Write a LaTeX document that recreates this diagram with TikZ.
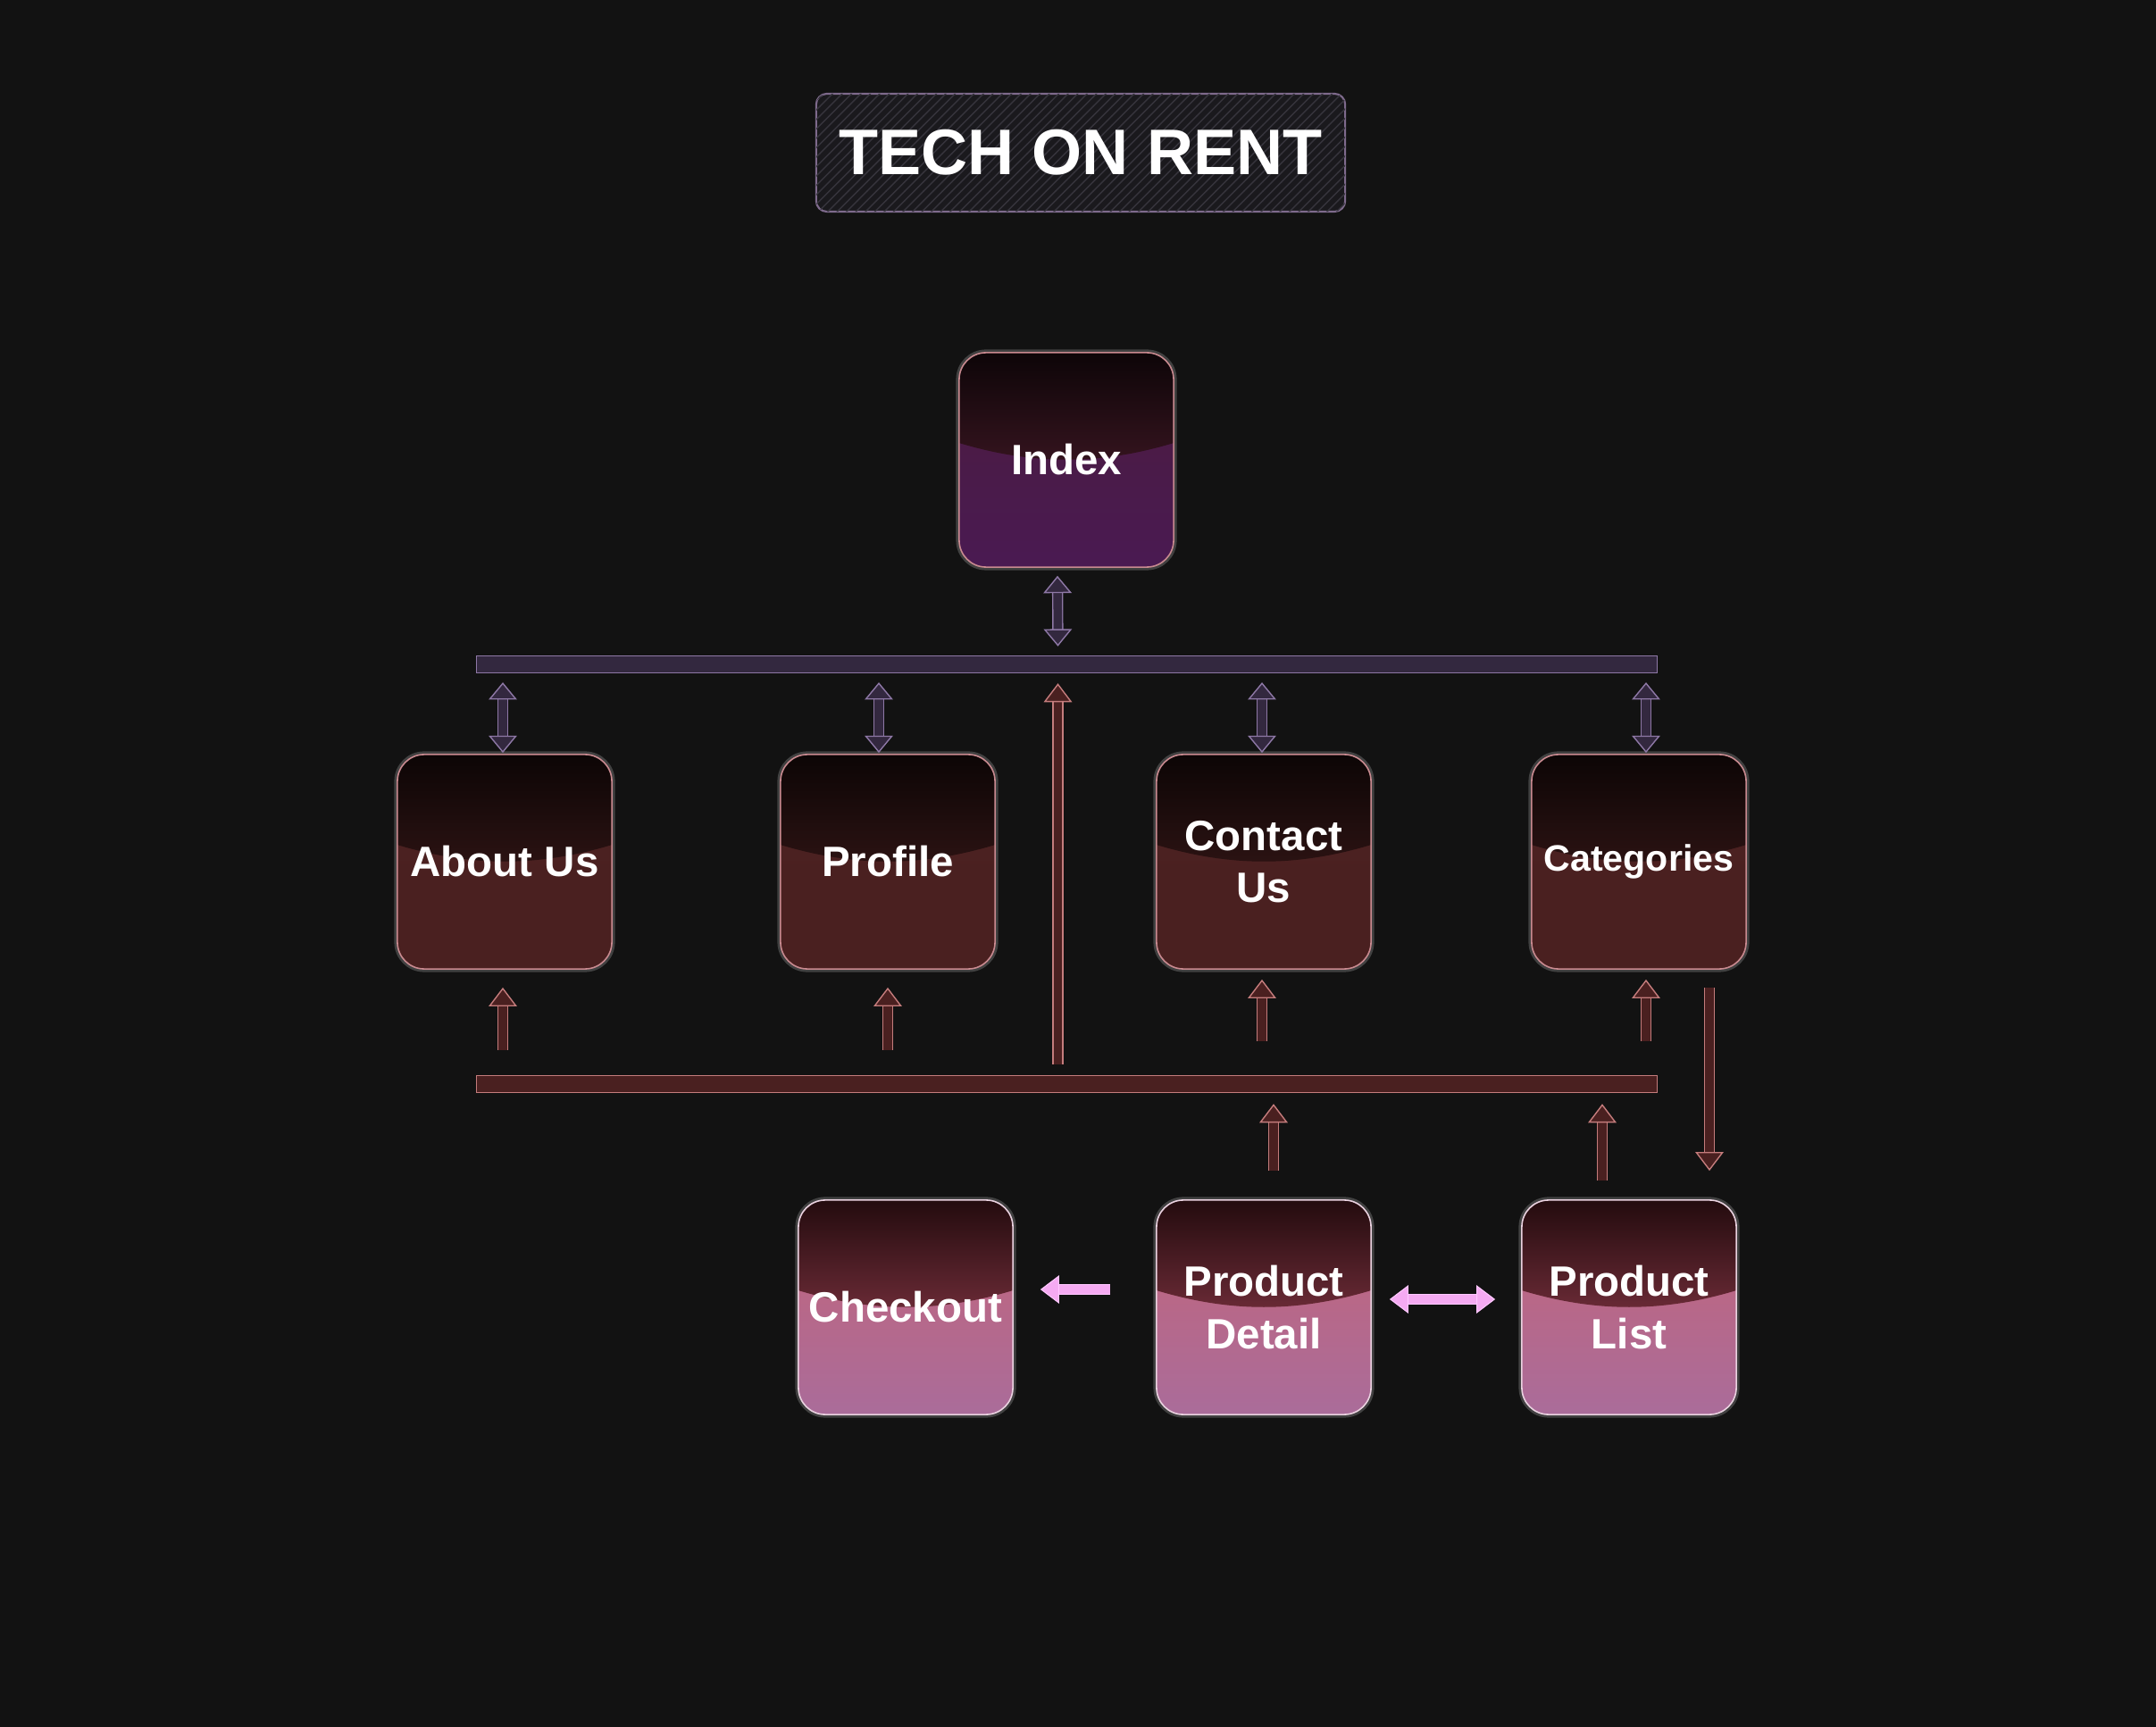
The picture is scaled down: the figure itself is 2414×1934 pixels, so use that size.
\documentclass[tikz,border=0pt]{standalone}
\usepackage{fontspec}
\setmainfont{Liberation Sans}
\usetikzlibrary{arrows.meta,calc,patterns}

\definecolor{bg}{HTML}{121212}
\definecolor{edge}{HTML}{C98A90}
\definecolor{paleedge}{HTML}{EAD2E0}
\definecolor{titlefill}{HTML}{1A191D}
\definecolor{titleline}{HTML}{7E6A8C}
\definecolor{hatch}{HTML}{36343C}
\definecolor{purpfill}{HTML}{33283F}
\definecolor{purpline}{HTML}{8E78A6}
\definecolor{redfill}{HTML}{4A2020}
\definecolor{redline}{HTML}{C47C7C}
\definecolor{pinkfill}{HTML}{F5AAF2}
\definecolor{pinkline}{HTML}{FFC8FF}
% tile shades
\definecolor{indextop}{HTML}{0A0406}
\definecolor{indexmid}{HTML}{36141F}
\definecolor{indexlow}{HTML}{4B1C3E}
\definecolor{indexbot}{HTML}{4A1A52}
\definecolor{darktop}{HTML}{0A0404}
\definecolor{darkmid}{HTML}{2C1313}
\definecolor{darklow}{HTML}{4B2121}
\definecolor{darkbot}{HTML}{4A2020}
\definecolor{pinktop}{HTML}{1E090B}
\definecolor{pinkmid}{HTML}{6C2B37}
\definecolor{pinklow}{HTML}{C46478}
\definecolor{pinkbot}{HTML}{AA6C9A}

\tikzset{
  tile/.style={rounded corners=0.3cm, minimum width=2.4cm, minimum height=2.4cm,
    inner sep=0.05cm, align=center, text=white, draw=edge, line width=0.45pt,
    font=\bfseries\fontsize{13.5}{16.6}\selectfont,
    preaction={draw=white, draw opacity=0.2, line width=2pt}},
  gloss/.style n args={4}{top color=#3, bottom color=#4,
    path picture={
      \coordinate (c) at (path picture bounding box.center);
      \shade[sharp corners, top color=#1, bottom color=#2]
        ($(c)+(-130,-130)$) -- ($(c)+(130,-130)$) -- ($(c)+(130,-22)$)
        .. controls ($(c)+(40,7)$) and ($(c)+(-40,7)$) .. ($(c)+(-130,-22)$) -- cycle;
    }},
  indexshade/.style={gloss={indextop}{indexmid}{indexlow}{indexbot}},
  darkshade/.style={gloss={darktop}{darkmid}{darklow}{darkbot}},
  pinkshade/.style={gloss={pinktop}{pinkmid}{pinklow}{pinkbot}, draw=paleedge},
  titlebox/.style={rounded corners=0.12cm, minimum width=5.92cm, minimum height=1.32cm,
    fill=titlefill, draw=titleline, line width=0.6pt, text=white,
    postaction={pattern=north east lines, pattern color=hatch},
    font=\bfseries\fontsize{20.5}{24}\selectfont},
  bar/.style={minimum width=13.21cm, minimum height=0.19cm, inner sep=0pt, line width=0.4pt},
  purparr/.style={draw=purpline, line width=0.4pt, double=purpfill, double distance=2.7pt,
    >={Triangle[width=9pt,length=5.5pt,fill=purpfill]}, <->},
  redarr/.style={draw=redline, line width=0.4pt, double=redfill, double distance=2.7pt,
    >={Triangle[width=9pt,length=6pt,fill=redfill]}, ->},
  pinkarr/.style={draw=pinkline, line width=0.3pt, double=pinkfill, double distance=2.9pt,
    >={Triangle[width=9pt,length=6pt,fill=pinkfill]}}
}

\begin{document}
\begin{tikzpicture}[x=0.01cm, y=-0.01cm]
% Background
    \fill[bg] (0,0) rectangle (2414,1934);
    \useasboundingbox (0,0) rectangle (2414,1934);
% Title
    \node[titlebox] (title) at (1210,171) {TECH ON RENT};
% Pages
    \node[tile, indexshade] (index) at (1194,515) {Index};
    \node[tile, darkshade] (about) at (565,965) {About Us};
    \node[tile, darkshade] (profile) at (994,965) {Profile};
    \node[tile, darkshade] (contact) at (1415,965) {Contact\\Us};
    \node[tile, darkshade, font=\bfseries\fontsize{11.7}{14}\selectfont] (categories) at (1835,965) {Categories};
    \node[tile, pinkshade] (checkout) at (1014,1464) {Checkout};
    \node[tile, pinkshade] (detail) at (1415,1464) {Product\\Detail};
    \node[tile, pinkshade] (list) at (1824,1464) {Product\\List};
% Bars
    \node[bar, fill=purpfill, draw=purpline] (topbar) at (1194.5,744) {};
    \node[bar, fill=redfill, draw=redline] (botbar) at (1194.5,1214) {};
% Index and top bar
    \draw[purparr] ($(index.south)+(-10,9)$) -- ($(topbar.north)+(-10,-10)$);
    \draw[purparr] ($(about.north)+(-2,-80)$) -- ($(about.north)+(-2,-1)$);
    \draw[purparr] ($(profile.north)+(-10,-80)$) -- ($(profile.north)+(-10,-1)$);
    \draw[purparr] ($(contact.north)+(-2,-80)$) -- ($(contact.north)+(-2,-1)$);
    \draw[purparr] ($(categories.north)+(8,-80)$) -- ($(categories.north)+(8,-1)$);
% Bottom bar up to the pages
    \draw[redarr] ($(botbar.north)+(-10,-12)$) -- ($(topbar.south)+(-10,11)$);
    \draw[redarr] ($(about.south)+(-2,90)$) -- ($(about.south)+(-2,20)$);
    \draw[redarr] ($(profile.south)+(0,90)$) -- ($(profile.south)+(0,20)$);
    \draw[redarr] ($(contact.south)+(-2,80)$) -- ($(contact.south)+(-2,11)$);
    \draw[redarr] ($(categories.south)+(8,80)$) -- ($(categories.south)+(8,11)$);
    \draw[redarr] ($(categories.south)+(79,20)$) -- ($(list.north)+(90,-32)$);
    \draw[redarr] ($(detail.north)+(11,-32)$) -- ($(detail.north |- botbar.south)+(11,12)$);
    \draw[redarr] ($(list.north)+(-30,-21)$) -- ($(list.north |- botbar.south)+(-30,12)$);
% Shop pages
    \draw[pinkarr, ->] ($(detail.west)+(-51,-20)$) -- ($(checkout.east)+(30,-20)$);
    \draw[pinkarr, <->] ($(detail.east)+(20,-9)$) -- ($(list.west)+(-29,-9)$);
\end{tikzpicture}
\end{document}
